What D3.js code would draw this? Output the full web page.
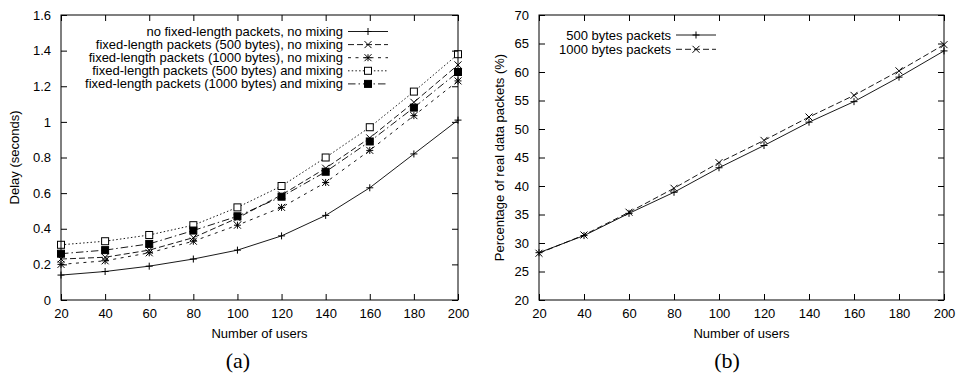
<!DOCTYPE html>
<html>
<head>
<meta charset="utf-8">
<script src="https://cdn.jsdelivr.net/npm/d3@7"></script>
<style>
  body { margin: 0; background: #fff; }
  svg text { font-family: "Liberation Sans", Arial, sans-serif; fill: #000; }
</style>
</head>
<body>
<svg id="chart" width="956" height="374"></svg>
<script>
// x values shared by both panels
var users = [20, 40, 60, 80, 100, 120, 140, 160, 180, 200];

// panel (a): delay in seconds
var delayNoFixed = [0.14, 0.16, 0.19, 0.23, 0.28, 0.36, 0.475, 0.63, 0.82, 1.01];
var delay500NoMix = [0.23, 0.24, 0.28, 0.35, 0.46, 0.59, 0.74, 0.91, 1.11, 1.32];
var delay1000NoMix = [0.20, 0.22, 0.265, 0.33, 0.42, 0.52, 0.66, 0.84, 1.035, 1.23];
var delay500Mix = [0.31, 0.33, 0.365, 0.42, 0.52, 0.64, 0.80, 0.97, 1.17, 1.38];
var delay1000Mix = [0.26, 0.28, 0.315, 0.39, 0.47, 0.58, 0.72, 0.89, 1.08, 1.28];
var labelsA = ["no fixed-length packets, no mixing",
               "fixed-length packets (500 bytes), no mixing",
               "fixed-length packets (1000 bytes), no mixing",
               "fixed-length packets (500 bytes) and mixing",
               "fixed-length packets (1000 bytes) and mixing"];
var yTicksA = [0, 0.2, 0.4, 0.6, 0.8, 1, 1.2, 1.4, 1.6];

// panel (b): percentage of real data packets
var pct500 = [28.3, 31.3, 35.2, 38.9, 43.2, 47.1, 51.2, 54.8, 59.1, 63.7];
var pct1000 = [28.2, 31.4, 35.4, 39.6, 44.1, 48.0, 52.1, 55.9, 60.2, 64.8];
var labelsB = ["500 bytes packets", "1000 bytes packets"];
var yTicksB = [20, 25, 30, 35, 40, 45, 50, 55, 60, 65, 70];

var svg = d3.select("#chart");

// gnuplot-ish line types
var dashes = [null, "6,3", "3,4.5", "1.5,2.2", "7.5,3,1.5,3"];
var symbols = ["plus", "cross", "star", "box", "fbox"];

function drawPoint(g, kind, cx, cy) {
  var s = 3.5;
  var p = g.append("g").attr("transform", "translate(" + cx + "," + cy + ")")
    .attr("stroke", "#000").attr("stroke-width", 1).attr("fill", "none");
  if (kind == "plus" || kind == "star") {
    p.append("path").attr("d", "M" + (-s) + ",0H" + s + "M0," + (-s) + "V" + s);
  }
  if (kind == "cross" || kind == "star") {
    p.append("path").attr("d", "M" + (-s) + "," + (-s) + "L" + s + "," + s + "M" + (-s) + "," + s + "L" + s + "," + (-s));
  }
  if (kind == "box") {
    p.append("rect").attr("x", -s).attr("y", -s).attr("width", 2 * s).attr("height", 2 * s).attr("fill", "#fff");
  }
  if (kind == "fbox") {
    p.append("rect").attr("x", -s).attr("y", -s).attr("width", 2 * s).attr("height", 2 * s).attr("fill", "#000");
  }
}

function panel(opt) {
  var x = d3.scaleLinear().domain([20, 200]).range([opt.left, opt.right]);
  var y = d3.scaleLinear().domain(opt.ydom).range([opt.bottom, opt.top]);
  var g = svg.append("g");

  // lines first, then points
  opt.series.forEach(function (vals, i) {
    var line = d3.line().x(function (d, j) { return x(users[j]); }).y(function (d) { return y(d); });
    g.append("path").datum(vals).attr("d", line)
      .attr("fill", "none").attr("stroke", "#000").attr("stroke-width", 0.9)
      .attr("stroke-dasharray", dashes[opt.lt[i]]);
  });
  opt.series.forEach(function (vals, i) {
    vals.forEach(function (v, j) { drawPoint(g, symbols[opt.lt[i]], x(users[j]), y(v)); });
  });

  // axes with inward ticks, mirrored
  var tl = 6;
  var fmt = function (d) { return String(d); };
  g.append("g").attr("transform", "translate(0," + opt.bottom + ")")
    .call(d3.axisBottom(x).tickValues(users).tickSizeInner(-tl).tickSizeOuter(0).tickPadding(9))
    .call(function (a) { a.select(".domain").remove(); a.selectAll("text").attr("font-size", 13).attr("font-family", "Liberation Sans, Arial, sans-serif"); });
  g.append("g").attr("transform", "translate(0," + opt.top + ")")
    .call(d3.axisTop(x).tickValues(users).tickSizeInner(-tl).tickSizeOuter(0).tickFormat(""))
    .call(function (a) { a.select(".domain").remove(); });
  g.append("g").attr("transform", "translate(" + opt.left + ",0)")
    .call(d3.axisLeft(y).tickValues(opt.yticks).tickFormat(fmt).tickSizeInner(-tl).tickSizeOuter(0).tickPadding(10))
    .call(function (a) { a.select(".domain").remove(); a.selectAll("text").attr("font-size", 13).attr("font-family", "Liberation Sans, Arial, sans-serif"); });
  g.append("g").attr("transform", "translate(" + opt.right + ",0)")
    .call(d3.axisRight(y).tickValues(opt.yticks).tickSizeInner(-tl).tickSizeOuter(0).tickFormat(""))
    .call(function (a) { a.select(".domain").remove(); });
  g.selectAll(".tick line").attr("stroke", "#000");

  g.append("rect").attr("x", opt.left).attr("y", opt.top)
    .attr("width", opt.right - opt.left).attr("height", opt.bottom - opt.top)
    .attr("fill", "none").attr("stroke", "#000").attr("stroke-width", 1);

  // titles
  g.append("text").attr("x", (opt.left + opt.right) / 2).attr("y", 338)
    .attr("text-anchor", "middle").attr("font-size", 13).text("Number of users");
  g.append("text").attr("transform", "translate(" + opt.ytx + "," + ((opt.top + opt.bottom) / 2) + ") rotate(-90)")
    .attr("text-anchor", "middle").attr("dy", "0.35em").attr("font-size", 13).text(opt.ytitle);
  g.append("text").attr("x", opt.capx).attr("y", 368).attr("text-anchor", "middle")
    .attr("font-size", 22).style("font-family", "'Liberation Serif', 'Times New Roman', serif").text(opt.caption);

  // legend
  opt.labels.forEach(function (lab, i) {
    var ly = opt.legY + i * opt.legStep;
    g.append("text").attr("x", opt.legX).attr("y", ly).attr("dy", "0.35em")
      .attr("text-anchor", "end").attr("font-size", 13).text(lab);
    g.append("line").attr("x1", opt.legX + 5).attr("x2", opt.legX + 45).attr("y1", ly).attr("y2", ly)
      .attr("stroke", "#000").attr("stroke-width", 0.9).attr("stroke-dasharray", dashes[opt.lt[i]]);
    drawPoint(g, symbols[opt.lt[i]], opt.legX + 25, ly);
  });
}

panel({
  left: 61, right: 458, top: 15, bottom: 300,
  ydom: [0, 1.6], yticks: yTicksA,
  series: [delayNoFixed, delay500NoMix, delay1000NoMix, delay500Mix, delay1000Mix],
  lt: [0, 1, 2, 3, 4],
  labels: labelsA, legX: 343, legY: 31.5, legStep: 13.1,
  ytitle: "Delay (seconds)", ytx: 14, caption: "(a)", capx: 238
});

panel({
  left: 539, right: 944, top: 15, bottom: 300,
  ydom: [20, 70], yticks: yTicksB,
  series: [pct500, pct1000],
  lt: [0, 1],
  labels: labelsB, legX: 671, legY: 35, legStep: 14.3,
  ytitle: "Percentage of real data packets (%)", ytx: 499, caption: "(b)", capx: 727
});
</script>
</body>
</html>
